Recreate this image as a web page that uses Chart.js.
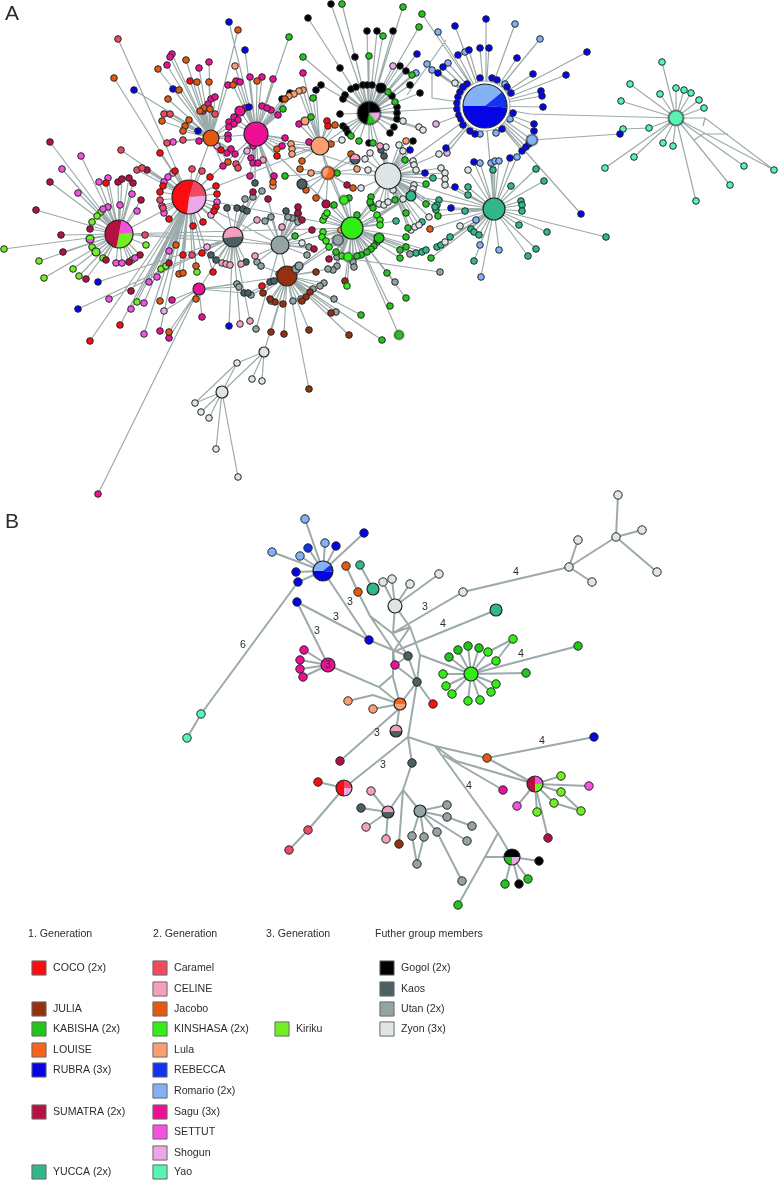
<!DOCTYPE html>
<html lang="en">
<head>
    <meta charset="UTF-8">
    <title>Haplotype networks</title>
    <script src="https://cdn.jsdelivr.net/npm/chart.js@4"></script>
    <style>
        body { margin: 0; background: #fff; }
    </style>
</head>
<body>
    <canvas id="chart" width="778" height="1180"></canvas>
    <script>
        // panel A leaf nodes, one list per individual, [x, y]
        const cocoA = [[190,81],[160,153],[221,150],[210,177],[175,171],[163,186],[160,192],[169,219],[216,186],[217,194],[216,207],[214,211],[203,222],[193,226],[120,325],[90,341],[183,255],[202,253],[213,272],[327,121],[328,126],[277,156],[106,183],[262,286]];
        const caramelA = [[118,39],[215,114],[164,114],[170,114],[183,140],[167,143],[121,150],[236,164],[238,168],[192,169],[202,171],[137,170],[142,168],[160,200],[163,208],[145,235],[192,255]];
        const jacoboA = [[238,30],[114,78],[186,60],[158,69],[257,81],[197,82],[209,82],[233,85],[179,90],[168,99],[204,108],[200,111],[210,109],[162,121],[189,120],[185,126],[183,131],[228,162],[176,245],[179,274],[183,273],[196,266],[160,301],[196,299],[169,332],[335,125],[285,99],[331,144],[277,149],[302,161],[300,169],[273,182],[306,190],[353,188],[316,198],[351,154],[430,229]];
        const rubraA = [[229,22],[245,50],[134,90],[173,89],[249,107],[198,131],[98,282],[78,309],[229,326],[410,150],[446,148],[474,162],[425,173],[455,187],[451,208],[486,19],[455,26],[417,54],[458,55],[469,50],[480,48],[489,48],[517,58],[438,73],[443,67],[480,78],[492,78],[497,80],[507,87],[511,93],[467,84],[463,87],[460,92],[458,97],[457,103],[457,109],[459,115],[461,119],[463,125],[470,131],[475,134],[502,129],[513,113],[510,158],[587,52],[533,74],[566,75],[541,91],[542,96],[543,107],[534,124],[534,131],[529,144],[526,147],[522,151],[581,214],[620,134]];
        const saguA = [[172,54],[170,57],[209,62],[167,65],[199,68],[250,77],[236,81],[240,82],[228,85],[211,99],[215,97],[208,104],[203,111],[245,108],[234,117],[238,120],[229,122],[234,124],[229,127],[228,135],[228,139],[199,141],[227,153],[231,149],[235,154],[253,146],[251,158],[253,163],[258,163],[223,166],[250,176],[303,73],[273,79],[262,77],[262,106],[271,110],[267,108],[278,115],[299,124],[309,142],[285,138],[282,146],[274,176],[172,300],[160,331],[169,338],[202,317],[98,494]];
        const settutA = [[173,142],[81,156],[62,169],[78,193],[99,182],[108,178],[168,177],[164,182],[162,206],[164,213],[217,202],[132,194],[120,205],[137,211],[108,207],[103,209],[169,251],[116,263],[122,263],[135,258],[157,277],[149,282],[144,303],[109,299],[131,309],[144,334]];
        const shogunA = [[217,146],[173,173],[211,215],[247,151],[207,247],[164,311],[393,66],[436,124],[447,153]];
        const celineA = [[222,263],[226,264],[230,265],[241,264],[255,256],[257,220],[240,324],[250,321],[282,227],[263,160],[380,146]];
        const sumatraA = [[50,142],[50,182],[36,210],[61,235],[63,252],[118,182],[122,179],[129,178],[133,183],[147,170],[141,200],[90,229],[86,279],[106,260],[129,262],[140,255],[169,263],[131,291],[253,192],[347,185],[268,199],[298,207],[298,213],[302,220],[312,230],[314,249],[329,259]];
        const kirikuA = [[4,249],[101,212],[97,216],[92,222],[92,247],[103,258],[146,245],[39,261],[44,278],[73,269],[79,276],[132,260],[161,269],[166,266],[137,302],[197,272]];
        const kinshasaA = [[323,232],[322,237],[326,241],[329,247],[323,220],[325,216],[327,213],[377,215],[380,220],[380,225],[342,256],[347,286]];
        const kabishaA = [[342,4],[403,7],[422,14],[419,27],[289,37],[303,57],[383,36],[369,56],[412,75],[313,98],[388,92],[395,102],[351,136],[359,141],[373,143],[283,109],[311,117],[337,173],[285,176],[405,160],[426,184],[334,205],[349,198],[371,197],[371,204],[370,202],[373,208],[395,200],[426,204],[406,213],[357,215],[377,242],[374,246],[371,249],[367,252],[361,255],[357,256],[336,252],[400,250],[406,247],[400,258],[431,258],[438,216],[406,237],[408,228],[295,236],[298,214],[387,273],[406,298],[390,306],[361,315],[382,340]];
        const juliaA = [[316,272],[345,281],[331,313],[349,335],[309,330],[284,334],[271,332],[309,389],[310,292],[306,297],[302,301],[283,304],[275,302],[270,299],[263,293]];
        const lulaA = [[235,66],[303,90],[299,91],[294,94],[289,96],[291,144],[292,149],[292,154],[311,173],[357,169],[273,186],[406,141],[341,230]];
        const kaosA = [[255,183],[227,208],[237,208],[243,209],[247,211],[211,255],[216,260],[246,262],[244,293],[248,293],[384,156],[381,150],[286,211],[270,282],[274,281]];
        const utanA = [[245,199],[253,197],[237,284],[239,287],[251,295],[256,329],[257,262],[262,191],[261,266],[292,218],[298,222],[288,217],[271,217],[265,221],[309,247],[307,255],[337,257],[353,262],[354,267],[337,266],[333,270],[328,269],[410,254],[440,272],[395,282],[334,299],[336,312],[324,283],[320,286],[313,289],[301,299],[293,301],[271,301],[279,274]];
        const zyonA = [[237,363],[252,379],[195,403],[201,412],[209,418],[216,449],[238,477],[262,381],[403,121],[419,127],[423,130],[342,140],[386,147],[399,145],[403,151],[439,154],[370,153],[365,159],[413,161],[414,165],[416,170],[441,168],[445,173],[445,179],[445,185],[468,170],[455,83],[368,170],[361,188],[393,190],[403,199],[379,204],[384,205],[388,202],[414,185],[413,189],[412,193],[429,217],[460,226],[445,242],[302,243],[411,230],[415,227],[419,225]];
        const gogolA = [[331,4],[308,18],[367,31],[377,31],[393,31],[355,57],[340,68],[400,66],[406,71],[410,85],[420,93],[321,85],[316,90],[345,95],[343,99],[351,89],[356,87],[363,85],[367,85],[372,85],[392,96],[397,107],[397,113],[397,119],[394,127],[390,133],[340,114],[343,126],[346,129],[348,133],[369,143],[413,141],[290,93],[282,99]];
        const yuccaA = [[493,170],[433,178],[468,187],[468,195],[511,186],[439,200],[437,205],[436,210],[435,207],[465,211],[471,229],[474,232],[479,235],[474,261],[416,253],[422,252],[426,250],[437,247],[441,245],[450,237],[396,221],[422,222],[536,169],[544,181],[521,201],[522,205],[522,211],[519,225],[547,232],[536,249],[528,256],[606,237]];
        const romarioA = [[540,39],[438,32],[515,24],[427,64],[432,70],[448,63],[465,52],[505,84],[480,134],[496,133],[510,119],[480,163],[491,163],[495,161],[499,161],[517,157],[476,220],[480,245],[481,277],[499,250],[416,73]];
        const yaoA = [[662,62],[630,84],[660,94],[676,88],[684,90],[691,93],[699,100],[704,108],[621,101],[649,128],[623,129],[663,143],[673,146],[634,157],[605,168],[696,201],[730,185],[744,166],[774,170]];

        // panel B leaf nodes
        const romarioB = [[305,519],[325,543],[272,552],[300,556]];
        const rubraB = [[364,533],[336,546],[296,572],[298,582],[297,602],[369,640],[594,737]];
        const rebeccaB = [[308,548]];
        const jacoboB = [[346,566],[358,592],[487,758]];
        const yuccaB = [[360,565]];
        const zyonB = [[383,582],[392,579],[410,584],[439,574],[463,592],[569,567],[578,540],[592,582],[616,537],[618,495],[642,530],[657,572]];
        const saguB = [[304,650],[300,660],[300,669],[303,677],[395,665],[503,790]];
        const kaosB = [[408,656],[417,682],[412,763],[361,808]];
        const cocoB = [[433,704],[318,782]];
        const lulaB = [[348,701],[373,709]];
        const yaoB = [[201,714],[187,738]];
        const sumatraB = [[340,761],[548,838]];
        const caramelB = [[308,830],[289,850]];
        const celineB = [[371,791],[366,827],[386,839]];
        const juliaB = [[399,844]];
        const utanB = [[447,805],[447,817],[472,826],[467,841],[437,832],[424,837],[412,836],[417,864],[462,881]];
        const kinshasaB = [[513,639],[496,661],[488,652],[443,674],[446,686],[452,694],[468,701],[480,700],[491,692],[496,684]];
        const kabishaB = [[578,646],[526,673],[479,648],[468,646],[458,650],[449,657],[528,879],[505,884],[458,905]];
        const kirikuB = [[561,776],[561,792],[554,803],[581,811],[537,812]];
        const settutB = [[589,786],[517,806]];
        const gogolB = [[539,861],[519,884]];

        // bigger nodes, a centre, a radius and the pie shares clockwise from north
        const hubPointsA = [[189,197],[119,234],[256,134],[211,138],[369,113],[485,106],[388,176],[494,209],[676,118],[352,228],[328,173],[320,146],[233,237],[280,245],[338,240],[287,276],[199,289],[222,392],[264,352],[532,140],[355,159],[411,196],[302,184],[326,204],[240,111],[305,121],[96,252],[90,239],[344,200],[379,238],[348,257],[399,335],[381,88],[296,269],[299,266]];
        const hubRadiiA = [17,14,12,8,11.5,22,13,11,7.5,11,6.5,9,10,9,5.5,10,6,6,5,5.5,5,5,5,4,5,4,4,4,4.5,5,4.5,4.5,5,4,4];
        const hubPartsA = [
            [['coco',.05],['caramel',.19],['shogun',.28],['coco',.48]],
            [['sumatra',.03],['settut',.21],['kiriku',.29],['sumatra',.47]],
            [['sagu',1]], [['jacobo',1]],
            [['gogol',.24],['shogun',.15],['kabisha',.14],['gogol',.47]],
            [['romario',.14],['rebecca',.12],['rubra',.49],['romario',.25]],
            [['zyon',1]], [['yucca',1]], [['yao',1]], [['kinshasa',1]],
            [['louise',.6],['lula',.4]], [['lula',1]],
            [['celine',.24],['kaos',.5],['celine',.26]],
            [['utan',1]], [['utan',1]], [['julia',1]], [['sagu',1]], [['zyon',1]], [['zyon',1]], [['romario',1]],
            [['celine',.25],['kaos',.5],['celine',.25]],
            [['yucca',1]], [['kaos',1]], [['sumatra',1]], [['sagu',1]], [['lula',1]], [['kiriku',1]],
            [['kiriku',.25],['settut',.5],['kiriku',.25]],
            [['kinshasa',1]], [['kabisha',1]], [['kinshasa',1]], [['kabisha',1]], [['gogol',1]], [['utan',1]], [['utan',1]]
        ];
        const hubPointsB = [[323,571],[373,589],[395,606],[328,665],[400,704],[396,731],[496,610],[471,674],[344,788],[388,812],[420,811],[535,784],[512,857]];
        const hubRadiiB = [10,6,7,7,6,6,6,7,8,6,6,8,8];
        const hubPartsB = [
            [['romario',.14],['rebecca',.12],['rubra',.49],['romario',.25]],
            [['yucca',1]], [['zyon',1]], [['sagu',1]],
            [['louise',.25],['lula',.5],['louise',.25]],
            [['celine',.25],['kaos',.5],['celine',.25]],
            [['yucca',1]], [['kinshasa',1]],
            [['caramel',.25],['shogun',.25],['coco',.5]],
            [['celine',.25],['kaos',.5],['celine',.25]],
            [['utan',1]],
            [['settut',.25],['kiriku',.25],['sumatra',.5]],
            [['gogol',.25],['shogun',.25],['kabisha',.25],['gogol',.25]]
        ];

        // leaves of A that run past the closest hub, grouped by the hub they really join
        const toCoco = [[90,341],[120,325],[137,302],[144,334],[144,303],[131,309],[160,331],[160,301],[179,274],[183,273],[196,266],[197,272],[161,269],[166,266],[169,263],[157,277],[149,282],[131,291],[176,245],[169,251],[183,255],[192,255],[202,253],[213,272],[118,39],[114,78]];
        const toKaosHub = [[78,309],[98,282],[109,299],[229,326],[240,324],[250,321]];
        const toSagu = [[229,22],[245,50]];
        const toJacobo = [[238,30],[134,90]];
        const toRubra = [[587,52],[581,214],[566,75]];
        const toSecondSagu = [[98,494]];
        const toJulia = [[309,389],[271,332],[284,334],[309,330]];
        const toUtan = [[256,329]];

        // links that do not just go to the closest hub
        const linksA = [
            [[189,197],[211,138]],[[189,197],[256,134]],[[189,197],[233,237]],[[189,197],[119,234]],[[189,197],[280,245]],[[189,197],[320,146]],
            [[256,134],[211,138]],[[256,134],[320,146]],[[320,146],[328,173]],[[328,173],[388,176]],[[388,176],[485,106]],[[388,176],[411,196]],
            [[388,176],[369,113]],[[369,113],[320,146]],[[369,113],[485,106]],[[411,196],[494,209]],[[352,228],[411,196]],[[352,228],[328,173]],
            [[352,228],[280,245]],[[280,245],[287,276]],[[280,245],[233,237]],[[119,234],[233,237]],[[287,276],[199,289]],[[199,289],[233,237]],
            [[222,392],[264,352]],[[264,352],[287,276]],[[222,392],[237,363]],[[237,363],[195,403]],[[264,352],[237,363]],
            [[119,234],[280,245]],[[119,234],[352,228]],[[189,197],[352,228]],[[256,134],[388,176]],[[256,134],[352,228]],[[320,146],[352,228]],
            [[485,106],[532,140]],[[532,140],[620,134]],[[623,129],[649,128]],[[676,118],[530,114],[485,106]],[[485,106],[494,209]],[[388,176],[494,209]],
            [[676,118],[705,118],[774,170]],[[705,118],[703,126]],[[703,134],[728,134]],[[694,140],[703,134]],[[432,70],[432,98],[485,106]],
            [[446,40],[407,95]],[[388,176],[352,228]],[[411,196],[287,276]],[[352,228],[287,276]],[[440,272],[345,258],[338,240]],[[411,196],[338,240]]
        ];
        const pathsB = [
            [[298,582],[201,714],[187,738]],[[323,571],[369,640]],[[297,602],[369,640]],[[297,602],[328,665]],
            [[369,640],[400,653],[408,656]],[[346,566],[358,592],[370,616],[392,633],[408,656]],[[370,616],[393,650],[395,665]],
            [[360,565],[373,589]],[[395,606],[383,582]],[[395,606],[392,579]],[[395,606],[410,584]],[[395,606],[439,574]],
            [[395,606],[393,633]],[[393,633],[410,627]],[[395,606],[410,627]],[[410,627],[420,655],[417,682]],[[410,627],[393,652],[393,677],[400,704]],
            [[393,633],[463,592],[569,567]],[[569,567],[578,540]],[[569,567],[592,582]],[[569,567],[616,537]],[[616,537],[618,495]],[[616,537],[642,530]],[[616,537],[657,572]],
            [[393,652],[496,610]],[[420,655],[471,674]],[[488,652],[513,639]],[[496,661],[513,639]],
            [[408,656],[417,682]],[[395,665],[417,682]],[[395,665],[408,656]],[[417,682],[433,704]],[[417,682],[400,704]],[[417,682],[408,737]],
            [[328,665],[379,687],[400,704]],[[379,687],[393,675]],[[348,701],[373,695],[400,704]],[[373,709],[400,704]],[[400,704],[396,731]],
            [[400,708],[340,761]],[[408,737],[344,788]],[[344,788],[318,782]],[[344,788],[308,830],[289,850]],
            [[408,737],[412,763],[403,790],[388,812]],[[403,790],[399,844]],[[403,790],[420,811]],
            [[388,812],[371,791]],[[388,812],[361,808]],[[388,812],[366,827]],[[388,812],[386,839]],
            [[420,811],[447,805]],[[420,811],[447,817],[472,826]],[[420,811],[467,841]],[[420,811],[437,832],[462,881]],[[420,811],[424,837],[417,864]],[[420,811],[412,836],[417,864]],
            [[408,737],[435,746],[487,758],[594,737]],[[487,758],[535,784]],[[435,746],[456,761],[535,784]],[[443,755],[503,790]],
            [[435,746],[498,833],[512,857]],[[498,833],[485,857],[458,905]],[[485,857],[512,857]],
            [[535,784],[561,776]],[[535,784],[589,786]],[[535,784],[561,792]],[[535,784],[554,803]],[[535,784],[537,812]],[[535,784],[517,806]],[[535,784],[548,838]],
            [[561,792],[581,811]],[[554,803],[581,811]],
            [[512,857],[539,861]],[[512,857],[519,884]],[[512,857],[528,879]],[[512,857],[505,884]]
        ];
        // stars drawn from one centre to a leaf list
        const starsB = [[[323,571],[...romarioB,[364,533],[336,546],[296,572],[298,582],[308,548]]],[[328,665],saguB.slice(0,4)],[[471,674],[...kinshasaB.slice(1),...kabishaB.slice(0,6)]]];

        // edge labels
        const edgeLabels = ['6','3','3','3','3','3','4','4','4','4','4','3','3'];
        const edgeLabelPoints = [[243,645],[350,602],[336,617],[317,631],[377,733],[425,607],[516,572],[443,624],[521,654],[542,741],[469,786],[383,765],[328,665]];

        // legend
        const legendHeads = ['1. Generation','2. Generation','3. Generation','Futher group members'];
        const legendHeadX = [28,153,266,375];
        const legendColumnX = [39,160,282,387];
        const legendRowY = [968,989,1009,1029,1050,1070,1091,1112,1132,1153,1172];
        const legendNames1 = ['COCO (2x)','JULIA','KABISHA (2x)','LOUISE','RUBRA (3x)','SUMATRA (2x)','YUCCA (2x)'];
        const legendKeys1 = ['coco','julia','kabisha','louise','rubra','sumatra','yucca'];
        const legendRows1 = [0,2,3,4,5,7,10];
        const legendNames2 = ['Caramel','CELINE','Jacobo','KINSHASA (2x)','Lula','REBECCA','Romario (2x)','Sagu (3x)','SETTUT','Shogun','Yao'];
        const legendKeys2 = ['caramel','celine','jacobo','kinshasa','lula','rebecca','romario','sagu','settut','shogun','yao'];
        const legendRows2 = [0,1,2,3,4,5,6,7,8,9,10];
        const legendNames3 = ['Kiriku'];
        const legendKeys3 = ['kiriku'];
        const legendRows3 = [3];
        const legendNames4 = ['Gogol (2x)','Kaos','Utan (2x)','Zyon (3x)'];
        const legendKeys4 = ['gogol','kaos','utan','zyon'];
        const legendRows4 = [0,1,2,3];

        const palette = {
            coco: '#fa0c10', caramel: '#f04a62', celine: '#f4a0bc', jacobo: '#e2590f', julia: '#96300e',
            kabisha: '#24c41a', kinshasa: '#33ee14', louise: '#f8641a', lula: '#fb9e72', rubra: '#0404e6',
            rebecca: '#1234ee', romario: '#84b0f6', sumatra: '#b41040', sagu: '#ee1093', settut: '#f552e0',
            shogun: '#eca8e6', yucca: '#32b888', yao: '#58f4b2', kiriku: '#74ee24', gogol: '#000000',
            kaos: '#4c6062', utan: '#94a4a4', zyon: '#dfe5e4'
        };
        const EDGE = '#9caaaa';
        const OUTLINE = '#20262a';

        const toPoints = list => list.map(p => ({ x: p[0], y: p[1] }));

        function nodeSet(key, list, radius) {
            return {
                label: key, data: toPoints(list), order: 5,
                backgroundColor: palette[key], borderColor: OUTLINE, borderWidth: 1, pointRadius: radius
            };
        }

        function pieImage(radius, parts) {
            const c = document.createElement('canvas');
            const size = Math.ceil(radius * 2 + 10);
            c.width = size;
            c.height = size;
            const g = c.getContext('2d');
            // the biggest node has a white ring round it
            if (radius >= 20) {
                g.beginPath();
                g.arc(size / 2, size / 2, radius + 3, 0, Math.PI * 2);
                g.fillStyle = '#fff';
                g.fill();
                g.strokeStyle = '#8a9696';
                g.lineWidth = 0.8;
                g.stroke();
            }
            let a = -Math.PI / 2;
            parts.forEach(([key, share]) => {
                const b = a + share * Math.PI * 2;
                g.beginPath();
                g.moveTo(size / 2, size / 2);
                g.arc(size / 2, size / 2, radius, a, b);
                g.closePath();
                g.fillStyle = palette[key];
                g.fill();
                a = b;
            });
            g.beginPath();
            g.arc(size / 2, size / 2, radius, 0, Math.PI * 2);
            g.strokeStyle = OUTLINE;
            g.lineWidth = 1.2;
            g.stroke();
            return c;
        }

        function hubSet(points, radii, parts) {
            return {
                label: 'hubs', data: toPoints(points), order: 1,
                pointStyle: parts.map((p, i) => pieImage(radii[i], p)), pointRadius: radii
            };
        }

        function edgeSet(paths, width) {
            const data = [];
            paths.forEach(path => {
                toPoints(path).forEach(p => data.push(p));
                data.push({ x: NaN, y: NaN });
            });
            return {
                label: 'edges', data, order: 10, showLine: true, spanGaps: false,
                borderColor: EDGE, borderWidth: width, pointRadius: 0
            };
        }

        // each remaining leaf of A hangs off the closest big hub
        const longSpokesA = [
            [[189,197], toCoco], [[233,237], toKaosHub], [[256,134], toSagu], [[211,138], toJacobo],
            [[485,106], toRubra], [[199,289], toSecondSagu], [[287,276], toJulia], [[280,245], toUtan]
        ];
        const placed = new Set(longSpokesA.flatMap(([hub, leaves]) => leaves.map(p => p.join())));
        ['620,134', '623,129', '237,363', '440,272'].forEach(k => placed.add(k));

        const leavesA = [cocoA, caramelA, jacoboA, rubraA, saguA, settutA, shogunA, celineA, sumatraA, kirikuA, kinshasaA, kabishaA, juliaA, lulaA, kaosA, utanA, zyonA, gogolA, yuccaA, romarioA, yaoA];
        const spokeHubs = hubPointsA.filter((p, i) => hubRadiiA[i] >= 6).concat([[264,352]]);
        const spokesA = longSpokesA.flatMap(([hub, leaves]) => leaves.map(p => [hub, p]));
        leavesA.flat().concat(hubPointsA.filter((p, i) => hubRadiiA[i] < 6)).forEach(p => {
            if (placed.has(p.join())) return;
            let best = spokeHubs[0], dist = Infinity;
            spokeHubs.forEach(h => {
                const d = Math.hypot(h[0] - p[0], h[1] - p[1]);
                if (d < dist) { dist = d; best = h; }
            });
            spokesA.push([best, p]);
        });
        const spokesB = starsB.flatMap(([hub, leaves]) => leaves.map(p => [hub, p]));

        const legendGroups = [
            [legendNames1, legendKeys1, legendRows1],
            [legendNames2, legendKeys2, legendRows2],
            [legendNames3, legendKeys3, legendRows3],
            [legendNames4, legendKeys4, legendRows4]
        ];
        const legendSets = legendGroups.map(([names, keys, rows], col) => ({
            label: 'legend', order: 2,
            data: rows.map(r => ({ x: legendColumnX[col], y: legendRowY[r] })),
            pointStyle: 'rect', pointRadius: 10, borderWidth: 1, borderColor: '#6a6a6a',
            backgroundColor: keys.map(k => palette[k])
        }));

        const textPlugin = {
            id: 'texts',
            afterDraw(chart) {
                const { ctx, scales } = chart;
                const put = (text, x, y, font) => {
                    ctx.font = font;
                    ctx.fillText(text, scales.x.getPixelForValue(x), scales.y.getPixelForValue(y));
                };
                ctx.save();
                ctx.fillStyle = '#2c2c2c';
                ctx.textBaseline = 'middle';
                const small = '10.6px "Liberation Sans", Arial, sans-serif';
                put('A', 5, 14, '21px "Liberation Sans", Arial, sans-serif');
                put('B', 5, 522, '21px "Liberation Sans", Arial, sans-serif');
                ctx.textAlign = 'center';
                edgeLabels.forEach((t, i) => put(t, edgeLabelPoints[i][0], edgeLabelPoints[i][1], small));
                ctx.textAlign = 'left';
                legendHeads.forEach((t, i) => put(t, legendHeadX[i], 934, small));
                legendGroups.forEach(([names, keys, rows], col) => {
                    names.forEach((t, i) => put(t, legendColumnX[col] + 14, legendRowY[rows[i]], small));
                });
                ctx.restore();
            }
        };

        const smallA = 3.3;
        const smallB = 4.2;

        new Chart(document.getElementById('chart'), {
            type: 'scatter',
            data: {
                datasets: [
                    edgeSet([...spokesA, ...linksA], 1.2),
                    edgeSet([...pathsB, ...spokesB], 2),
                    nodeSet('coco', cocoA, smallA), nodeSet('caramel', caramelA, smallA), nodeSet('jacobo', jacoboA, smallA),
                    nodeSet('rubra', rubraA, smallA), nodeSet('sagu', saguA, smallA), nodeSet('settut', settutA, smallA),
                    nodeSet('shogun', shogunA, smallA), nodeSet('celine', celineA, smallA), nodeSet('sumatra', sumatraA, smallA),
                    nodeSet('kiriku', kirikuA, smallA), nodeSet('kinshasa', kinshasaA, smallA), nodeSet('kabisha', kabishaA, smallA),
                    nodeSet('julia', juliaA, smallA), nodeSet('lula', lulaA, smallA), nodeSet('kaos', kaosA, smallA),
                    nodeSet('utan', utanA, smallA), nodeSet('zyon', zyonA, smallA), nodeSet('gogol', gogolA, smallA),
                    nodeSet('yucca', yuccaA, smallA), nodeSet('romario', romarioA, smallA), nodeSet('yao', yaoA, smallA),
                    nodeSet('romario', romarioB, smallB), nodeSet('rubra', rubraB, smallB), nodeSet('rebecca', rebeccaB, smallB),
                    nodeSet('jacobo', jacoboB, smallB), nodeSet('yucca', yuccaB, smallB), nodeSet('zyon', zyonB, smallB),
                    nodeSet('sagu', saguB, smallB), nodeSet('kaos', kaosB, smallB), nodeSet('coco', cocoB, smallB),
                    nodeSet('lula', lulaB, smallB), nodeSet('yao', yaoB, smallB), nodeSet('sumatra', sumatraB, smallB),
                    nodeSet('caramel', caramelB, smallB), nodeSet('celine', celineB, smallB), nodeSet('julia', juliaB, smallB),
                    nodeSet('utan', utanB, smallB), nodeSet('kinshasa', kinshasaB, smallB), nodeSet('kabisha', kabishaB, smallB),
                    nodeSet('kiriku', kirikuB, smallB), nodeSet('settut', settutB, smallB), nodeSet('gogol', gogolB, smallB),
                    hubSet(hubPointsA, hubRadiiA, hubPartsA),
                    hubSet(hubPointsB, hubRadiiB, hubPartsB),
                    ...legendSets
                ]
            },
            options: {
                responsive: false,
                animation: false,
                events: [],
                layout: { padding: 0, autoPadding: false },
                plugins: { legend: { display: false }, tooltip: { enabled: false } },
                scales: {
                    x: { type: 'linear', min: 0, max: 778, display: false },
                    y: { type: 'linear', min: 0, max: 1180, reverse: true, display: false }
                }
            },
            plugins: [textPlugin]
        });
    </script>
</body>
</html>
